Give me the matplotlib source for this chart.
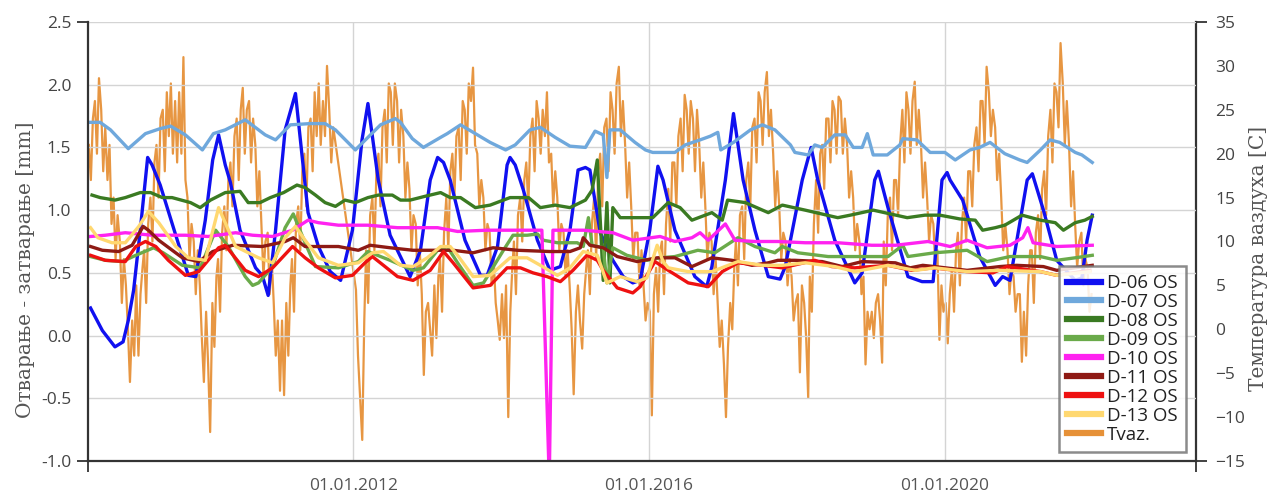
import matplotlib.pyplot as plt
import matplotlib.dates as mdates
import matplotlib.ticker as mticker
import numpy as np
import pandas as pd

nan = np.nan

# joint opening / closing [mm]: (decimal year, value)
d06_t = [2008.45, 2008.61, 2008.78, 2008.89, 2008.96, 2009.03, 2009.12, 2009.22, 2009.28, 2009.39,
         2009.60, 2009.77, 2009.87, 2010.00, 2010.10, 2010.18, 2010.27, 2010.34, 2010.47, 2010.68,
         2010.77, 2010.85, 2010.95, 2011.08, 2011.22, 2011.39, 2011.53, 2011.69, 2011.83, 2011.99,
         2012.12, 2012.20, 2012.34, 2012.50, 2012.77, 2012.91, 2013.04, 2013.14, 2013.22, 2013.31,
         2013.51, 2013.72, 2013.81, 2013.95, 2014.08, 2014.12, 2014.19, 2014.30, 2014.49, 2014.66,
         2014.80, 2014.93, 2015.04, 2015.14, 2015.20, 2015.34, 2015.51, 2015.65, 2015.78, 2015.88,
         2016.01, 2016.12, 2016.19, 2016.35, 2016.62, 2016.78, 2016.85, 2017.03, 2017.14, 2017.27,
         2017.43, 2017.61, 2017.77, 2017.84, 2018.07, 2018.19, 2018.28, 2018.51, 2018.78, 2018.88,
         2019.05, 2019.10, 2019.23, 2019.50, 2019.69, 2019.84, 2019.96, 2020.03, 2020.07, 2020.24,
         2020.47, 2020.68, 2020.78, 2020.88, 2021.11, 2021.18, 2021.33, 2021.51, 2021.76, 2021.85,
         2021.92, 2021.99]
d06_v = [0.22, 0.04, -0.09, -0.05, 0.12, 0.36, 0.84, 1.42, 1.36, 1.20,
         0.80, 0.48, 0.47, 0.92, 1.40, 1.60, 1.36, 1.22, 0.84, 0.54,
         0.48, 0.32, 0.84, 1.64, 1.93, 0.98, 0.71, 0.51, 0.44, 0.84,
         1.56, 1.85, 1.24, 0.80, 0.47, 0.68, 1.24, 1.42, 1.38, 1.24,
         0.76, 0.48, 0.48, 0.71, 1.36, 1.42, 1.36, 1.16, 0.76, 0.52,
         0.55, 0.84, 1.32, 1.34, 1.32, 0.82, 0.60, 0.47, 0.42, 0.44,
         0.84, 1.35, 1.24, 0.84, 0.47, 0.39, 0.55, 1.24, 1.77, 1.24,
         0.84, 0.47, 0.45, 0.55, 1.24, 1.50, 1.24, 0.76, 0.42, 0.50,
         1.24, 1.31, 1.02, 0.47, 0.43, 0.43, 1.24, 1.30, 1.24, 1.08,
         0.63, 0.40, 0.47, 0.44, 1.24, 1.29, 1.00, 0.60, 0.44, 0.46,
         0.76, 0.96]

d07_t = [2008.45, 2008.58, 2008.72, 2008.96, 2009.19, 2009.39, 2009.53, 2009.73, 2009.96, 2010.11,
         2010.27, 2010.54, 2010.81, 2010.95, 2011.15, 2011.42, 2011.62, 2011.76, 2012.03, 2012.37,
         2012.57, 2012.64, 2012.80, 2012.95, 2013.18, 2013.27, 2013.45, 2013.65, 2013.85, 2014.06,
         2014.19, 2014.39, 2014.53, 2014.73, 2014.93, 2015.14, 2015.27, 2015.38, 2015.43, 2015.47,
         2015.61, 2015.81, 2015.95, 2016.05, 2016.35, 2016.49, 2016.69, 2016.83, 2016.93, 2016.97,
         2017.14, 2017.37, 2017.53, 2017.70, 2017.91, 2017.97, 2018.15, 2018.24, 2018.34, 2018.51,
         2018.65, 2018.76, 2018.88, 2018.95, 2019.03, 2019.22, 2019.39, 2019.43, 2019.62, 2019.80,
         2020.00, 2020.14, 2020.34, 2020.47, 2020.61, 2020.81, 2021.01, 2021.11, 2021.29, 2021.42,
         2021.55, 2021.76, 2021.85, 2021.99]
d07_v = [1.70, 1.70, 1.64, 1.49, 1.61, 1.65, 1.67, 1.60, 1.48, 1.61,
         1.64, 1.72, 1.60, 1.56, 1.68, 1.69, 1.69, 1.64, 1.48, 1.68,
         1.73, 1.70, 1.57, 1.50, 1.58, 1.61, 1.68, 1.61, 1.54, 1.48,
         1.52, 1.64, 1.66, 1.58, 1.51, 1.50, 1.63, 1.60, 1.26, 1.64,
         1.64, 1.54, 1.48, 1.46, 1.46, 1.52, 1.56, 1.59, 1.62, 1.48,
         1.54, 1.64, 1.68, 1.64, 1.52, 1.46, 1.44, 1.52, 1.50, 1.60,
         1.60, 1.50, 1.50, 1.61, 1.44, 1.44, 1.52, 1.57, 1.56, 1.46,
         1.46, 1.40, 1.48, 1.50, 1.54, 1.45, 1.40, 1.38, 1.48, 1.56,
         1.54, 1.46, 1.44, 1.38]

d08_t = [2008.47, 2008.58, 2008.78, 2008.92, 2009.12, 2009.26, 2009.42, 2009.55, 2009.80, 2009.93,
         2010.07, 2010.27, 2010.47, 2010.58, 2010.74, 2010.88, 2011.06, 2011.24, 2011.35, 2011.49,
         2011.62, 2011.76, 2011.89, 2012.03, 2012.20, 2012.34, 2012.53, 2012.64, 2012.77, 2012.97,
         2013.18, 2013.31, 2013.45, 2013.65, 2013.85, 2014.12, 2014.37, 2014.53, 2014.73, 2014.93,
         2015.14, 2015.23, 2015.30, 2015.38, 2015.43, 2015.47, 2015.51, 2015.61, 2015.88, 2016.05,
         2016.26, 2016.42, 2016.58, 2016.85, 2016.99, 2017.06, 2017.30, 2017.61, 2017.80, 2018.11,
         2018.55, 2018.72, 2019.03, 2019.26, 2019.49, 2019.73, 2019.93, 2020.20, 2020.41, 2020.51,
         2020.68, 2020.81, 2021.04, 2021.29, 2021.49, 2021.60, 2021.76, 2021.89, 2021.99]
d08_v = [1.12, 1.10, 1.08, 1.10, 1.14, 1.14, 1.10, 1.10, 1.06, 1.02,
         1.08, 1.14, 1.15, 1.06, 1.06, 1.10, 1.14, 1.20, 1.18, 1.12,
         1.06, 1.03, 1.08, 1.06, 1.10, 1.12, 1.12, 1.08, 1.08, 1.11,
         1.14, 1.10, 1.10, 1.02, 1.04, 1.10, 1.10, 1.02, 1.04, 1.02,
         1.08, 1.16, 1.40, 0.44, 1.06, 0.42, 1.02, 0.94, 0.94, 0.94,
         1.06, 1.02, 0.92, 0.98, 0.92, 1.08, 1.06, 0.98, 1.04, 1.00,
         0.94, 0.96, 1.00, 0.97, 0.94, 0.96, 0.96, 0.93, 0.92, 0.84,
         0.86, 0.88, 0.96, 0.92, 0.90, 0.84, 0.90, 0.92, 0.95]

d09_t = [2008.45, 2008.65, 2008.88, 2009.06, 2009.30, 2009.43, 2009.69, 2009.93, 2010.14, 2010.31,
         2010.54, 2010.64, 2010.72, 2010.91, 2011.08, 2011.19, 2011.35, 2011.49, 2011.80, 2012.07,
         2012.20, 2012.50, 2012.81, 2012.95, 2013.14, 2013.27, 2013.41, 2013.62, 2013.76, 2014.03,
         2014.16, 2014.35, 2014.49, 2014.57, 2014.76, 2015.03, 2015.11, 2015.18, 2015.23, 2015.38,
         2015.43, 2015.51, 2015.70, 2015.97, 2016.15, 2016.35, 2016.66, 2016.89, 2017.20, 2017.43,
         2017.70, 2017.80, 2018.01, 2018.42, 2018.88, 2019.23, 2019.43, 2019.50, 2019.86, 2020.30,
         2020.57, 2020.88, 2021.29, 2021.51, 2021.76, 2021.99]
d09_v = [0.63, 0.60, 0.59, 0.64, 0.70, 0.66, 0.56, 0.54, 0.84, 0.71,
         0.47, 0.40, 0.42, 0.55, 0.86, 0.97, 0.74, 0.55, 0.54, 0.59,
         0.67, 0.60, 0.52, 0.54, 0.68, 0.71, 0.58, 0.40, 0.42, 0.68,
         0.80, 0.80, 0.81, 0.76, 0.74, 0.74, 0.71, 0.94, 0.72, 0.70,
         0.42, 0.70, 0.64, 0.60, 0.62, 0.63, 0.68, 0.66, 0.78, 0.71,
         0.66, 0.71, 0.66, 0.63, 0.63, 0.63, 0.72, 0.63, 0.66, 0.68,
         0.59, 0.63, 0.63, 0.60, 0.62, 0.64]

d10_t = [2008.45, 2008.65, 2008.92, 2009.28, 2009.73, 2010.04, 2010.41, 2010.64, 2010.91, 2011.18,
         2011.39, 2011.53, 2011.80, 2012.20, 2012.60, 2013.14, 2013.41, 2013.81, 2014.22, 2014.55,
         2014.65, 2014.70, 2015.11, 2015.51, 2015.78, 2016.15, 2016.35, 2016.58, 2016.69, 2016.80,
         2017.03, 2017.16, 2017.43, 2017.74, 2018.11, 2018.55, 2019.01, 2019.33, 2019.77, 2020.07,
         2020.30, 2020.57, 2020.88, 2021.05, 2021.12, 2021.19, 2021.51, 2021.99]
d10_v = [0.79, 0.80, 0.82, 0.80, 0.80, 0.79, 0.82, 0.80, 0.79, 0.84,
         0.92, 0.90, 0.88, 0.88, 0.86, 0.86, 0.83, 0.84, 0.84, 0.84,
         -1.15, 0.84, 0.84, 0.82, 0.76, 0.79, 0.75, 0.78, 0.82, 0.76,
         0.89, 0.76, 0.75, 0.75, 0.74, 0.74, 0.72, 0.72, 0.75, 0.71,
         0.76, 0.70, 0.72, 0.78, 0.86, 0.74, 0.71, 0.72]

d11_t = [2008.45, 2008.61, 2008.83, 2009.01, 2009.16, 2009.23, 2009.37, 2009.69, 2009.91, 2010.10,
         2010.37, 2010.77, 2011.08, 2011.19, 2011.35, 2011.80, 2012.07, 2012.23, 2012.50, 2012.81,
         2013.35, 2013.62, 2013.89, 2014.22, 2014.66, 2014.93, 2015.07, 2015.11, 2015.20, 2015.38,
         2015.57, 2015.84, 2016.11, 2016.35, 2016.58, 2016.85, 2017.12, 2017.39, 2017.61, 2017.74,
         2017.97, 2018.34, 2018.61, 2018.88, 2019.33, 2019.53, 2019.70, 2019.86, 2020.30, 2020.74,
         2020.97, 2021.33, 2021.51, 2021.99]
d11_v = [0.71, 0.68, 0.67, 0.72, 0.87, 0.84, 0.76, 0.62, 0.59, 0.67,
         0.72, 0.71, 0.75, 0.78, 0.71, 0.71, 0.68, 0.72, 0.70, 0.68,
         0.68, 0.66, 0.70, 0.68, 0.67, 0.67, 0.70, 0.78, 0.72, 0.70,
         0.63, 0.59, 0.62, 0.62, 0.55, 0.62, 0.60, 0.56, 0.58, 0.60,
         0.60, 0.59, 0.55, 0.59, 0.58, 0.54, 0.56, 0.55, 0.52, 0.55,
         0.56, 0.55, 0.52, 0.56]

d12_t = [2008.45, 2008.65, 2008.92, 2009.06, 2009.19, 2009.33, 2009.50, 2009.73, 2009.91, 2010.18,
         2010.27, 2010.54, 2010.72, 2010.91, 2011.18, 2011.35, 2011.53, 2011.76, 2011.99, 2012.16,
         2012.26, 2012.41, 2012.60, 2012.81, 2013.04, 2013.22, 2013.35, 2013.62, 2013.85, 2014.08,
         2014.26, 2014.43, 2014.62, 2014.80, 2014.97, 2015.16, 2015.30, 2015.38, 2015.57, 2015.78,
         2015.88, 2016.08, 2016.26, 2016.53, 2016.80, 2016.99, 2017.20, 2017.53, 2017.80, 2018.24,
         2018.47, 2018.78, 2019.23, 2019.55, 2019.84, 2020.30, 2020.65, 2020.84, 2021.29, 2021.51,
         2021.96]
d12_v = [0.64, 0.60, 0.59, 0.71, 0.75, 0.71, 0.60, 0.48, 0.51, 0.70,
         0.72, 0.52, 0.47, 0.54, 0.71, 0.62, 0.54, 0.46, 0.48, 0.58,
         0.63, 0.56, 0.47, 0.44, 0.52, 0.67, 0.58, 0.38, 0.40, 0.54,
         0.54, 0.50, 0.47, 0.43, 0.52, 0.64, 0.60, 0.52, 0.38, 0.34,
         0.39, 0.59, 0.52, 0.42, 0.39, 0.51, 0.58, 0.56, 0.54, 0.60,
         0.55, 0.54, 0.56, 0.52, 0.54, 0.51, 0.50, 0.55, 0.51, 0.48,
         0.52]

d13_t = [2008.45, 2008.55, 2008.74, 2008.92, 2009.10, 2009.23, 2009.37, 2009.60, 2009.77, 2010.00,
         2010.18, 2010.41, 2010.72, 2010.91, 2011.08, 2011.22, 2011.35, 2011.53, 2011.80, 2012.07,
         2012.26, 2012.41, 2012.64, 2012.81, 2013.00, 2013.18, 2013.31, 2013.41, 2013.62, 2013.85,
         2014.12, 2014.35, 2014.53, 2014.76, 2014.93, 2015.11, 2015.30, 2015.43, 2015.61, 2015.84,
         2015.97, 2016.11, 2016.19, 2016.26, 2016.53, 2016.85, 2017.20, 2017.53, 2017.80, 2018.11,
         2018.51, 2018.78, 2019.23, 2019.60, 2019.86, 2020.30, 2020.74, 2021.29, 2021.51, 2021.96]
d13_v = [0.86, 0.78, 0.74, 0.74, 0.87, 0.99, 0.90, 0.71, 0.62, 0.60,
         1.02, 0.71, 0.62, 0.58, 0.78, 0.87, 0.76, 0.62, 0.56, 0.58,
         0.66, 0.67, 0.56, 0.55, 0.62, 0.71, 0.71, 0.64, 0.47, 0.48,
         0.62, 0.62, 0.56, 0.48, 0.54, 0.67, 0.64, 0.42, 0.47, 0.43,
         0.46, 0.72, 0.59, 0.54, 0.51, 0.51, 0.59, 0.56, 0.56, 0.58,
         0.55, 0.51, 0.56, 0.52, 0.54, 0.51, 0.52, 0.51, 0.48, 0.51]

# air temperature [C], three readings per month (5th, 15th, 25th)
tvaz_2008 = [21, 17, 24, 26, 20, 28.6, 25, 18, 23, 17, 21, 12, 15, 8, 13, 10, 3, 8, 5, 0, -6]
tvaz_2009 = [1, -3, 5, -3, 4, 7, 9, 3, 12, 15, 10, 19, 21, 15, 24, 25, 18, 27,
             22, 28, 20, 26, 19, 27, 20, 31, 17, 15, 8, 12, 10, 4, 9, 5, -1, -6]
tvaz_2010 = [2, -4, -11.7, 3, -2, 6, 8, 2, 11, 14, 9, 17, 19, 14, 22, 24, 17, 25,
             27.5, 20, 25, 26, 19, 24, 21, 14, 18, 12, 6, 10, 11, 4, 8, 3, -3, 1]
tvaz_2011 = [-7, 1, -7.5, 3, -3, 5, 8, 2, 12, 14, 9, 18, 20, 14, 23, 24, 18, 27,
             22, 28, 21, 26, 22, 30, 25, 19, 23, nan, nan, nan, nan, nan, nan, nan, nan, nan]
tvaz_2012 = [nan, 4.5, -3, -8, -12.6, 1, 9, 3, 13, 15, 9, 18, 20, 14, 23, 25, 19, 28,
             27, 21, 28, 26, 19, 25, 22, 15, 19, 16, 9, 13, 12, 5, 9, 4, -5.2, 2]
tvaz_2013 = [3, 0, -3, 5, -1, 6, 8, 2, 11, 15, 9, 18, 20, 15, 22, 23, 17, 26,
             25, 20, 28, 26, 29.8, 21, 20, 14, 17, 15, 9, 12, 11, 5, 8, 3, 1, -1.2]
tvaz_2014 = [4, -1, 5, -10, 2, 7, 10, 4, 13, 15, 10, 17, 19, 14, 22, 24, 18, 26,
             24, 20, 25, 22, 27, 19, 20, 14, 18, 15, 9, 12, 11, 6, 9, 5, 0, -7.4]
tvaz_2015 = [2, 5, 1, -2.2, 4, 7, 9, 4, 12, 15, 8, 18, 20, 14, 23, 24, 18, 27,
             25, 20, 28, 29.9, 22, 26, 21, 15, 19, 14, 8, 11, 11, 5, 9, 5, 1, 3]
tvaz_2016 = [2, -9.8, 4, 7, 2, 9, 10, 4, 12, 16, 10, 19, 19, 14, 22, 24, 18, 26.7,
             25, 20, 26, 24, 18, 25, 21, 15, 19, 14, 8, 11, 10, 4, 8, 3, -2, 1]
tvaz_2017 = [-4, -10, -2, 3, 0, 7, 10, 5, 13, 14, 8, 17, 19, 14, 23, 24, 19, 27,
             26, 21, 27, 29.3, 22, 25, 20, 14, 18, 14, 8, 11, 10, 5, 8, 6, 1, 3]
tvaz_2018 = [4, -4.9, 5, 3, -1, -7.8, 6, 2, 12, 17, 11, 20, 21, 16, 24, 24, 19, 26,
             25, 20, 26.5, 26, 20, 24, 21, 15, 18, 15, 9, 12, 10, 4, 6, -4, 2, 0]
tvaz_2019 = [2, -1, 3, 4, 1, -3.8, 10, 5, 13, 15, 9, 17, 17, 13, 21, 25, 19, 27,
             25, 20, 26, 28.2, 21, 25, 21, 15, 19, 15, 10, 13, 12, 7, 9, -1.2, 5, 2]
tvaz_2020 = [3, -1.6, 4, 7, 2, 9, 11, 5, 12, 15, 10, 18, 18, 14, 21, 23, 18, 26,
             26, 21, 29.9, 27, 22, 25, 23, 17, 20, 15, 9, 12, 9, 4, 7, 6, 2, 4]
tvaz_2021 = [4, -3.7, 2, -3, 5, 9, 9, 3, 11, 13, 8, 16, 18, 13, 22, 25, 19, 28,
             27, 23, 32.6, 28, 21, 26, 21, 14, 18, 12, 7, 10, 11, 5, 8, 7, 2, 4]

labels = ['D-06 OS', 'D-07 OS', 'D-08 OS', 'D-09 OS', 'D-10 OS',
          'D-11 OS', 'D-12 OS', 'D-13 OS', 'Tvaz.']
colors = ['#1010f0', '#6fa8dc', '#3a7a22', '#6aaa4a', '#ff22f0',
          '#8e1a14', '#ee1111', '#ffd870', '#e69138']


def to_dates(years):
    return [pd.Timestamp(int(y), 1, 1) + pd.Timedelta(days=(y - int(y)) * 365.25) for y in years]


months = pd.date_range('2008-06-01', '2021-12-01', freq='MS')
t_dates = np.array([m + pd.Timedelta(days=d) for m in months for d in (4, 14, 24)])
t_vals = np.array(tvaz_2008 + tvaz_2009 + tvaz_2010 + tvaz_2011 + tvaz_2012 + tvaz_2013
                  + tvaz_2014 + tvaz_2015 + tvaz_2016 + tvaz_2017 + tvaz_2018 + tvaz_2019
                  + tvaz_2020 + tvaz_2021, dtype=float)
ok = ~np.isnan(t_vals)

series = [(d06_t, d06_v), (d07_t, d07_v), (d08_t, d08_v), (d09_t, d09_v),
          (d10_t, d10_v), (d11_t, d11_v), (d12_t, d12_v), (d13_t, d13_v)]

fig = plt.figure(figsize=(12.74, 4.93), dpi=100)
ax = fig.add_axes([0.0691, 0.0649, 0.8697, 0.8905])
tx = ax.twinx()
ax.set_zorder(tx.get_zorder() + 1)
ax.patch.set_visible(False)

t_line, = tx.plot(t_dates[ok], t_vals[ok], color=colors[8], lw=1.6, alpha=0.95)

handles = []
for (t, v), c, lab in zip(series, colors, labels):
    h, = ax.plot(to_dates(t), v, color=c, lw=2.4, label=lab, solid_joinstyle='round')
    handles.append(h)
handles.append(t_line)

ax.set_ylim(-1.0, 2.5)
tx.set_ylim(-15, 35)
ax.set_xlim(pd.Timestamp('2008-06-01'), pd.Timestamp('2023-05-25'))

tick_font = dict(family='Open Sans', size=12.5)
dark = '#333333'

ax.yaxis.set_major_locator(mticker.FixedLocator(np.arange(-1.0, 2.51, 0.5)))
ax.yaxis.set_major_formatter(mticker.FormatStrFormatter('%.1f'))
ax.yaxis.set_minor_locator(mticker.FixedLocator([-1.0, 2.5]))
ax.yaxis.remove_overlapping_locs = False
tx.yaxis.set_major_locator(mticker.FixedLocator(np.arange(-15, 36, 5)))
tx.yaxis.set_minor_locator(mticker.FixedLocator([-15, 35]))
tx.yaxis.remove_overlapping_locs = False

ax.xaxis.set_major_locator(mticker.FixedLocator(mdates.date2num(
    [pd.Timestamp('2012-01-01'), pd.Timestamp('2016-01-01'), pd.Timestamp('2020-01-01')])))
ax.xaxis.set_major_formatter(mdates.DateFormatter('%d.%m.%Y'))
ax.xaxis.set_minor_locator(mticker.FixedLocator(mdates.date2num(
    [pd.Timestamp('2008-06-01'), pd.Timestamp('2023-05-25')])))

for a in (ax, tx):
    a.tick_params(which='major', length=0, labelcolor='#444444')
    a.tick_params(which='minor', length=8, width=1.3, color=dark, direction='out')
    for lab in a.get_xticklabels() + a.get_yticklabels():
        lab.set_fontfamily(tick_font['family'])
        lab.set_fontsize(tick_font['size'])
ax.tick_params(axis='y', which='major', pad=12)
ax.tick_params(axis='x', which='major', pad=12, labelcolor='#555555')
tx.tick_params(axis='y', which='major', pad=14)

ax.grid(True, which='major', color='#d4d4d4', lw=1.0)

for s in ('top', 'right'):
    ax.spines[s].set_visible(False)
for s in ('top', 'left', 'bottom'):
    tx.spines[s].set_visible(False)
for sp in (ax.spines['left'], ax.spines['bottom'], tx.spines['right']):
    sp.set_color(dark)
    sp.set_linewidth(1.6)

fig.text(0.020, 1 - 270 / 493, 'Отварање - затварање [mm]', rotation=90,
         ha='center', va='center', family='DejaVu Serif', size=14.5, color='#555555')
fig.text(1258 / 1274, 1 - 258 / 493, 'Температура ваздуха [C]', rotation=90,
         ha='center', va='center', family='DejaVu Serif', size=14.5, color='#555555')

leg = ax.legend(handles, labels, loc='lower right', bbox_to_anchor=(0.991, 0.0205),
                borderaxespad=0, prop={'family': 'Open Sans', 'size': 13.5},
                labelspacing=0.05, handlelength=1.8, handletextpad=0.3, borderpad=0.45,
                fancybox=False, framealpha=0.85, edgecolor='#777777')
leg.get_frame().set_linewidth(1.8)
for h in leg.get_lines():
    h.set_linewidth(4.5)
    h.set_alpha(1)
for t in leg.get_texts():
    t.set_color('#222222')

fig.savefig('out.png', dpi=100)
